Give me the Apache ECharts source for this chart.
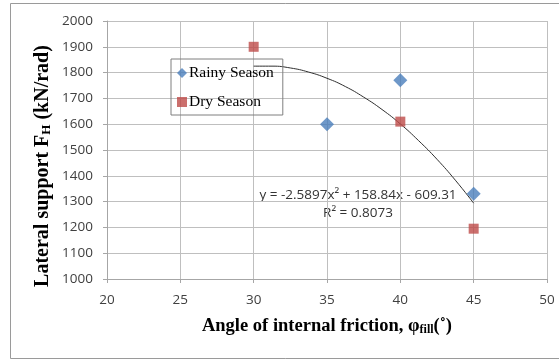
<!DOCTYPE html>
<html><head><meta charset="utf-8">
<script src="https://cdn.jsdelivr.net/npm/echarts@6/dist/echarts.min.js"></script>
<style>html,body{margin:0;padding:0;background:#fff}#c{width:559px;height:360px}</style>
</head><body><div id="c"></div>
<script>
const rainyX = [35, 40, 45];
const rainyY = [1600, 1770, 1330];
const dryX = [30, 40, 45];
const dryY = [1900, 1610, 1195];
const trendX = [30, 31.25, 32.5, 33.75, 35, 36.25, 37.5, 38.75, 40, 41.25, 42.5, 43.75, 45];
const trendY = [1825, 1825, 1818, 1802, 1778, 1746, 1705, 1657, 1601, 1536, 1464, 1383, 1294];
const xTicks = [20, 25, 30, 35, 40, 45, 50];
const yTicks = [1000, 1100, 1200, 1300, 1400, 1500, 1600, 1700, 1800, 1900, 2000];
const eqText = 'y = -2.5897x² + 158.84x - 609.31';
const r2Text = 'R² = 0.8073';

const zip = (a, b) => a.map((v, i) => [v, b[i]]);
const chart = echarts.init(document.getElementById('c'));
const serif = '"Liberation Serif","Times New Roman",serif';
const sans = '"Open Sans","DejaVu Sans",sans-serif';
chart.setOption({
  backgroundColor: '#fff',
  animation: false,
  grid: {left: 107, right: 12, top: 21, bottom: 81},
  xAxis: {
    type: 'value', min: xTicks[0], max: xTicks[xTicks.length - 1], interval: 5,
    axisLine: {lineStyle: {color: '#a6a6a6'}},
    axisTick: {show: true, length: 4, lineStyle: {color: '#a6a6a6'}},
    splitLine: {lineStyle: {color: '#bfbfbf'}},
    axisLabel: {color: '#404040', fontFamily: sans, fontSize: 13.5, margin: 14},
    name: '{a|Angle of internal friction, φ}{s|fill}{a|(˚)}',
    nameLocation: 'middle', nameGap: 38,
    nameTextStyle: {rich: {
      a: {fontFamily: serif, fontWeight: 'bold', fontSize: 18.5, color: '#000'},
      s: {fontFamily: serif, fontWeight: 'bold', fontSize: 12, color: '#000', verticalAlign: 'bottom', padding: [7, 0, 0, 0]}
    }}
  },
  yAxis: {
    type: 'value', min: yTicks[0], max: yTicks[yTicks.length - 1], interval: 100,
    axisLine: {show: true, lineStyle: {color: '#a6a6a6'}},
    axisTick: {show: true, length: 4, lineStyle: {color: '#a6a6a6'}},
    splitLine: {lineStyle: {color: '#bfbfbf'}},
    axisLabel: {color: '#404040', fontFamily: sans, fontSize: 13.5, margin: 14, formatter: v => String(v)}
  },
  legend: {
    left: 171, top: 59, orient: 'vertical', itemGap: 13,
    padding: [6, 9, 5, 6],
    borderColor: '#7f7f7f', borderWidth: 1,
    itemWidth: 10, itemHeight: 10,
    textStyle: {fontFamily: serif, fontSize: 15.5, color: '#000', padding: [0, 0, 0, -3]},
    data: ['Rainy Season', 'Dry Season']
  },
  series: [
    {name: 'Trend', type: 'line', data: zip(trendX, trendY), smooth: true, symbol: 'none',
     lineStyle: {color: '#303030', width: 1}, z: 1},
    {name: 'Rainy Season', type: 'scatter', data: zip(rainyX, rainyY), symbol: 'diamond', symbolSize: 14,
     itemStyle: {color: '#4a7ebb'}, z: 3},
    {name: 'Dry Season', type: 'scatter', data: zip(dryX, dryY), symbol: 'rect', symbolSize: 10,
     itemStyle: {color: '#be4b48'}, z: 3}
  ],
  graphic: [
    {type: 'rect', shape: {x: 10.5, y: 3.5, width: 552, height: 355}, style: {fill: 'none', stroke: '#9a9a9a', lineWidth: 1}, z: -1},
    {type: 'text', x: 43, y: 166, rotation: Math.PI / 2,
     style: {text: '{a|Lateral support F}{s|H}{a| (kN/rad)}', align: 'center', verticalAlign: 'middle',
       rich: {
         a: {fontFamily: serif, fontWeight: 'bold', fontSize: 20, fill: '#000'},
         s: {fontFamily: serif, fontWeight: 'bold', fontSize: 13, fill: '#000', verticalAlign: 'bottom', padding: [8, 0, 0, 0]}
       }}},
    {type: 'text', x: 358, y: 195, style: {text: eqText, font: '13.5px ' + sans, fill: '#333', align: 'center', verticalAlign: 'middle'}},
    {type: 'text', x: 358, y: 213, style: {text: r2Text, font: '13.5px ' + sans, fill: '#333', align: 'center', verticalAlign: 'middle'}}
  ]
});
</script></body></html>
